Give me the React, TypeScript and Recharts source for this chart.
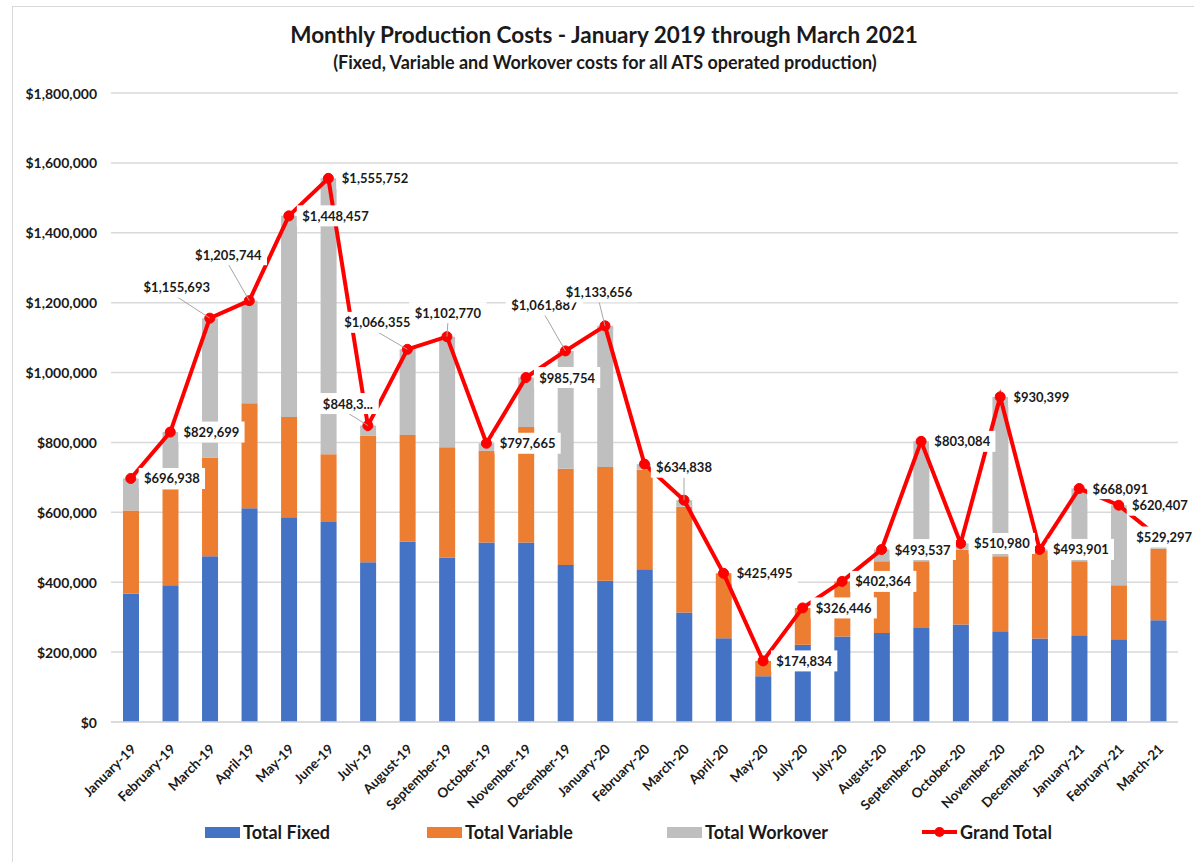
import React from 'react';
import {
  ComposedChart,
  Bar,
  Line,
  XAxis,
  YAxis,
  CartesianGrid,
  Legend,
  LabelList,
} from 'recharts';

const months = [
  'January-19', 'February-19', 'March-19', 'April-19', 'May-19', 'June-19',
  'July-19', 'August-19', 'September-19', 'October-19', 'November-19', 'December-19',
  'January-20', 'February-20', 'March-20', 'April-20', 'May-20', 'July-20',
  'July-20', 'August-20', 'September-20', 'October-20', 'November-20', 'December-20',
  'January-21', 'February-21', 'March-21',
];

const totalFixed = [
  367000, 391000, 474000, 612000, 586000, 572000, 457000, 516000, 471000,
  514000, 514000, 449000, 404000, 437000, 313000, 240000, 131000, 221000,
  245000, 255000, 269000, 279000, 260000, 239000, 248000, 237000, 291000,
];

const totalVariable = [
  238000, 274000, 283000, 300000, 287000, 194000, 363000, 305000, 315000,
  262000, 330000, 276000, 326000, 285000, 303000, 185495, 43834, 105446,
  157364, 205000, 191000, 214000, 214000, 250000, 212000, 154000, 205000,
];

const totalWorkover = [
  91938, 164699, 398693, 293744, 575457, 789752, 28330, 245355, 316770,
  21665, 141754, 336887, 403656, 16000, 18838, 0, 0, 0,
  0, 33537, 343084, 17980, 456399, 4901, 208091, 229407, 33297,
];

const grandTotal = [
  696938, 829699, 1155693, 1205744, 1448457, 1555752, 848330, 1066355, 1102770,
  797665, 985754, 1061887, 1133656, 738000, 634838, 425495, 174834, 326446,
  402364, 493537, 803084, 510980, 930399, 493901, 668091, 620407, 529297,
];

const yTicks = [0, 200000, 400000, 600000, 800000, 1000000, 1200000, 1400000, 1600000, 1800000];

// label placement per point: 'right' or offset of label centre from the point; null = hidden
type Placement = 'right' | { dx: number; dy: number; leader: boolean } | null;
const labelPlacement: Placement[] = [
  'right', 'right', { dx: -33, dy: -31, leader: true }, { dx: -21, dy: -46, leader: true },
  'right', 'right', { dx: -20, dy: -22, leader: true }, { dx: -30, dy: -27, leader: true },
  { dx: 1, dy: -24, leader: true }, 'right', 'right', { dx: -21, dy: -46, leader: true },
  { dx: -6, dy: -34, leader: true }, null, { dx: 0, dy: -33, leader: true }, 'right', 'right',
  'right', 'right', 'right', 'right', 'right', 'right', 'right', 'right', 'right',
  { dx: 6, dy: 0, leader: false },
];
const truncatedLabels: Record<number, string> = { 6: '$848,3...' };

const data = months.map((m, i) => ({
  month: m,
  fixed: totalFixed[i],
  variable: totalVariable[i],
  workover: totalWorkover[i],
  total: grandTotal[i],
}));

const FONT = 'Lato, "Noto Sans", sans-serif';
const fmtMoney = (v: number) => '$' + Math.round(v).toLocaleString('en-US');

const textWidth = (s: string, size: number) => {
  let w = 0;
  for (const ch of s) {
    if (ch === ',' || ch === '.') w += 0.27;
    else w += 0.58;
  }
  return w * size;
};

const PointLabel = (props: any) => {
  const { x, y, index, value } = props;
  const p = labelPlacement[index];
  if (p === null || p === undefined || x == null || y == null) return null;
  const text = truncatedLabels[index] ?? fmtMoney(value);
  const fs = 13;
  const tw = textWidth(text, fs);
  const padX = 5;
  const h = 21;
  let cx: number;
  let cy: number;
  let leader = false;
  if (p === 'right') {
    cx = x + 13 + tw / 2;
    cy = y;
  } else {
    cx = x + p.dx;
    cy = y + p.dy;
    leader = p.leader;
  }
  return (
    <g>
      {leader && (
        <line x1={cx} y1={cy + h / 2 - 1} x2={x} y2={y} stroke="#A6A6A6" strokeWidth={1} />
      )}
      <rect x={cx - tw / 2 - padX} y={cy - h / 2} width={tw + padX * 2} height={h} fill="#FFFFFF" />
      <text
        x={cx}
        y={cy}
        textAnchor="middle"
        dominantBaseline="central"
        fontFamily={FONT}
        fontWeight={700}
        fontSize={fs}
        fill="#1a1a1a"
      >
        {text}
      </text>
    </g>
  );
};

const XTick = (props: any) => {
  const { x, y, payload } = props;
  return (
    <g transform={`translate(${x + 6},${y + 20})`}>
      <text
        x={0}
        y={0}
        textAnchor="end"
        transform="rotate(-45)"
        fontFamily={FONT}
        fontWeight={700}
        fontSize={13.5}
        fill="#1a1a1a"
      >
        {payload.value}
      </text>
    </g>
  );
};

const YTick = (props: any) => {
  const { y, payload } = props;
  return (
    <text
      x={97}
      y={y}
      textAnchor="end"
      dominantBaseline="central"
      fontFamily={FONT}
      fontWeight={700}
      fontSize={14}
      fill="#1a1a1a"
    >
      {fmtMoney(payload.value)}
    </text>
  );
};

const legendItems = [
  { name: 'Total Fixed', color: '#4472C4', kind: 'rect', left: 205 },
  { name: 'Total Variable', color: '#ED7D31', kind: 'rect', left: 427 },
  { name: 'Total Workover', color: '#BFBFBF', kind: 'rect', left: 667 },
  { name: 'Grand Total', color: '#FF0000', kind: 'line', left: 922 },
];

const LegendContent = () => (
  <div style={{ position: 'relative', width: 1194, height: 30 }}>
    {legendItems.map((it) => (
      <div
        key={it.name}
        style={{
          position: 'absolute',
          left: it.left,
          top: 0,
          height: 30,
          display: 'flex',
          alignItems: 'center',
          fontFamily: FONT,
          fontWeight: 700,
          fontSize: 18,
          color: '#1a1a1a',
          whiteSpace: 'nowrap',
        }}
      >
        {it.kind === 'rect' ? (
          <span style={{ display: 'inline-block', width: 35, height: 11, background: it.color }} />
        ) : (
          <svg width={35} height={12} style={{ display: 'block' }}>
            <line x1={0} y1={6} x2={35} y2={6} stroke={it.color} strokeWidth={4} />
            <circle cx={17.5} cy={6} r={5} fill={it.color} />
          </svg>
        )}
        <span style={{ marginLeft: 3 }}>{it.name}</span>
      </div>
    ))}
  </div>
);

export default function App() {
  return (
    <div
      style={{
        position: 'absolute',
        left: 0,
        top: 0,
        width: 1194,
        height: 862,
        background: '#FFFFFF',
        overflow: 'hidden',
      }}
    >
      <div
        style={{
          position: 'absolute',
          left: 12,
          top: 6,
          width: 1300,
          height: 1000,
          border: '1px solid #D9D9D9',
          boxSizing: 'border-box',
        }}
      />
      <div
        style={{
          position: 'absolute',
          left: 0,
          width: 1208,
          top: 20,
          textAlign: 'center',
          fontFamily: FONT,
          fontWeight: 700,
          fontSize: 22.5,
          color: '#1a1a1a',
          lineHeight: '30px',
        }}
      >
        Monthly Production Costs - January 2019 through March 2021
      </div>
      <div
        style={{
          position: 'absolute',
          left: 0,
          width: 1210,
          top: 50,
          textAlign: 'center',
          fontFamily: FONT,
          fontWeight: 700,
          fontSize: 18,
          color: '#1a1a1a',
          lineHeight: '24px',
        }}
      >
        (Fixed, Variable and Workover costs for all ATS operated production)
      </div>
      <ComposedChart
        width={1194}
        height={862}
        data={data}
        margin={{ top: 93, right: 16, left: 0, bottom: 10 }}
        barCategoryGap={0}
        style={{ position: 'absolute', left: 0, top: 0 }}
      >
        <CartesianGrid horizontal vertical={false} stroke="#D9D9D9" strokeWidth={1.5} />
        <XAxis
          dataKey="month"
          interval={0}
          height={130}
          tickLine={false}
          axisLine={{ stroke: '#D9D9D9', strokeWidth: 1.5 }}
          tick={<XTick />}
        />
        <YAxis
          width={111}
          domain={[0, 1800000]}
          ticks={yTicks}
          tickLine={false}
          axisLine={false}
          tick={<YTick />}
        />
        <Legend
          layout="horizontal"
          verticalAlign="middle"
          align="center"
          content={<LegendContent />}
          wrapperStyle={{ top: 817, left: 0, width: 1194, height: 30 }}
        />
        <Bar dataKey="fixed" name="Total Fixed" stackId="a" fill="#4472C4" barSize={16} isAnimationActive={false} />
        <Bar dataKey="variable" name="Total Variable" stackId="a" fill="#ED7D31" barSize={16} isAnimationActive={false} />
        <Bar dataKey="workover" name="Total Workover" stackId="a" fill="#BFBFBF" barSize={16} isAnimationActive={false} />
        <Line
          dataKey="total"
          name="Grand Total"
          type="linear"
          stroke="#FF0000"
          strokeWidth={4}
          dot={{ r: 5, fill: '#FF0000', stroke: '#FF0000', strokeWidth: 1 }}
          activeDot={false}
          isAnimationActive={false}
        >
          <LabelList dataKey="total" content={<PointLabel />} />
        </Line>
      </ComposedChart>
    </div>
  );
}
